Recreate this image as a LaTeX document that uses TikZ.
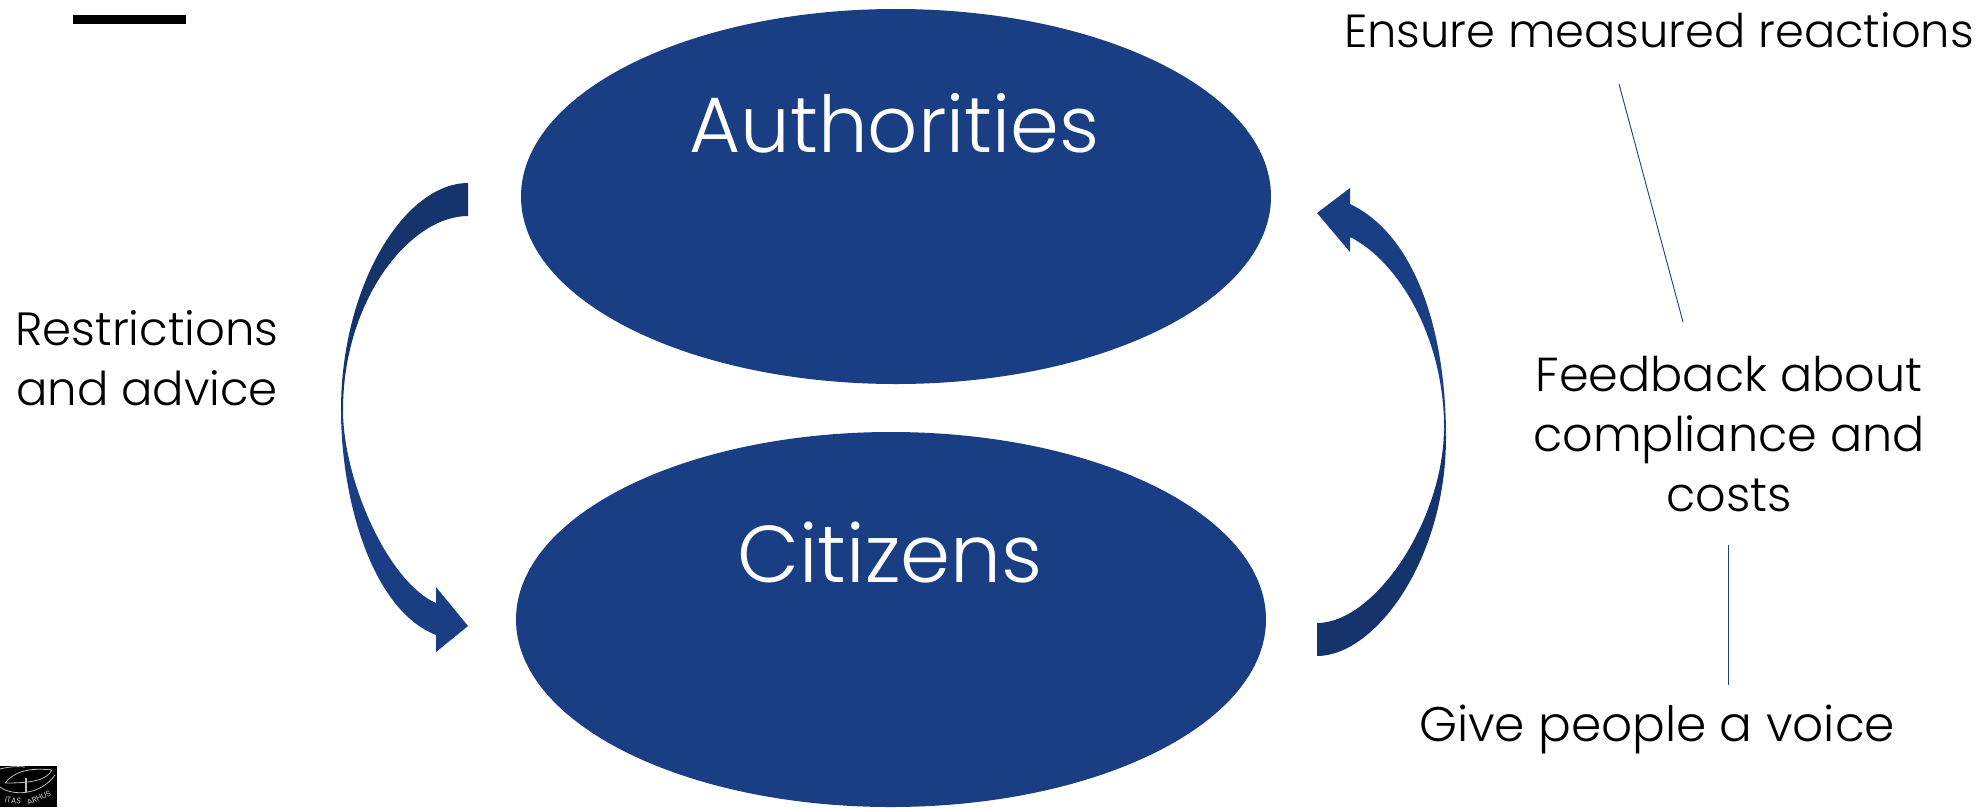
\documentclass[tikz,border=0pt]{standalone}
\usepackage{fontspec}
\setmainfont{Poppins Light}
\usetikzlibrary{shapes.geometric}
\definecolor{navy}{HTML}{1A3E83}
\definecolor{navydark}{HTML}{15346B}
\tikzset{x=1pt,y=-1pt,
 oval/.style={ellipse,fill=navy,minimum width=750pt,minimum height=375pt,inner sep=0pt},
 big/.style={text=white,anchor=center,inner sep=0pt},
 lab/.style={text=black,align=center,inner sep=0pt},
 logotext/.style={text=white,inner sep=0pt,font=\fontsize{8}{8}\selectfont},
 rule line/.style={draw=navy,line width=0.9pt}}
\newcommand{\fsz}[1]{\fontsize{#1}{60}\selectfont}
\begin{document}
\begin{tikzpicture}
\useasboundingbox (0,0) rectangle (1988,807);
\node[oval] (auth) at (896,196.5) {};
\node[oval] (citi) at (891,619.5) {};
\node[big,font=\fsz{78.5}] (authT) at (894.5,123) {Authorities};
\node[big,font=\fsz{80.5}] (citiT) at (890,553) {Citizens};
% left arrow
\fill[navydark] (468,183) .. controls (405,183) and (341,285) .. (341,410) -- (343,410) .. controls (343,300) and (410,216) .. (468,216) -- cycle;
\fill[navy] (341,410) .. controls (341,500) and (372,610) .. (436,635) -- (436,652) -- (468,626) -- (436,587) -- (436,603) .. controls (388,582) and (343,480) .. (343,410) -- cycle;
% right arrow
\fill[navydark] (1317,656) .. controls (1375,656) and (1446,560) .. (1446,437) -- (1444,427) .. controls (1444,520) and (1375,623) .. (1317,623) -- cycle;
\fill[navy] (1446,437) .. controls (1446,330) and (1415,235) .. (1350,204) -- (1350,188) -- (1317,213) -- (1350,252) -- (1350,237) .. controls (1400,262) and (1444,340) .. (1444,427) -- cycle;
\node[lab,font=\fsz{46.6}] (restr) at (147,358) {Restrictions\\and advice};
\node[lab,font=\fsz{47.7}] (fb) at (1729,434) {Feedback about\\compliance and\\costs};
\node[lab,font=\fsz{46.4}] (measured) at (1659,30) {Ensure measured reactions};
\node[lab,font=\fsz{48.6}] (voice) at (1657,729) {Give people a voice};
\coordinate (a1) at (1619,84);
\coordinate (a2) at (1683,322);
\coordinate (b1) at (1728,545);
\coordinate (b2) at (1728,685);
\draw[rule line] (a1) -- (a2);
\draw[rule line] (b1) -- (b2);
% top bar
\fill[black] (73,15) rectangle (186,24);
% logo
\fill[black] (0,766) rectangle (57,807);
\begin{scope}[draw=white!75!black,line width=0.8pt]
\draw (0,769) .. controls (8,767) and (16,766) .. (25,767);
\draw (0,787) .. controls (12,796) and (40,796) .. (55,775);
\draw (5,783) .. controls (13,773) and (27,767) .. (52,770) .. controls (46,781) and (30,783) .. (5,783);
\draw[line width=1.4pt] (26,778) -- (26,792);
\end{scope}
\node[logotext,rotate=-6] (logoa) at (13,800.5) {ITAS};
\node[logotext,rotate=24] (logob) at (39,798) {ARHUS};
\end{tikzpicture}
\end{document}
